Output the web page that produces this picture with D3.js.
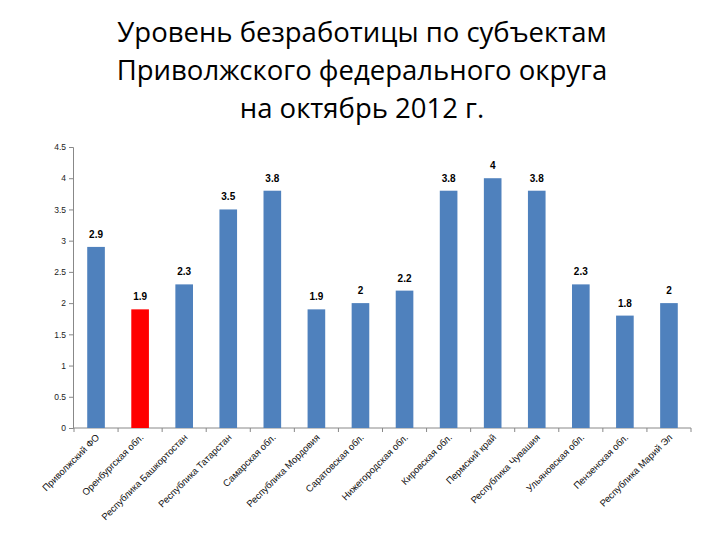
<!DOCTYPE html>
<html><head><meta charset="utf-8">
<script src="https://cdn.jsdelivr.net/npm/d3@7"></script>
<style>body{margin:0;background:#fff}</style>
</head><body>
<svg id="c" width="720" height="540"></svg>
<script>
const titleLines = ["Уровень безработицы по субъектам", "Приволжского федерального округа", "на октябрь 2012 г."];
const categories = ["Приволжский ФО", "Оренбургская обл.", "Республика Башкортостан", "Республика Татарстан", "Самарская обл.", "Республика Мордовия", "Саратовская обл.", "Нижегородская обл.", "Кировская обл.", "Пермский край", "Республика Чувашия", "Ульяновская обл.", "Пензенская обл.", "Республика Марий Эл"];
const values = [2.9, 1.9, 2.3, 3.5, 3.8, 1.9, 2, 2.2, 3.8, 4, 3.8, 2.3, 1.8, 2];
const highlighted = ["Оренбургская обл."];
const yTicks = [0, 0.5, 1, 1.5, 2, 2.5, 3, 3.5, 4, 4.5];

const svg = d3.select("#c");
const x = d3.scaleBand().domain(categories).range([74, 691]).paddingInner(0.6).paddingOuter(0.3);
const y = d3.scaleLinear().domain([0, 4.5]).range([428, 147]);

svg.append("g").selectAll("text").data(titleLines).join("text")
  .attr("x", 362).attr("y", (d, i) => 42 + i * 38)
  .attr("text-anchor", "middle")
  .style("font-family", "'Open Sans', sans-serif").style("font-size", "27.5px").style("fill", "#000")
  .text(d => d);

const yAxis = svg.append("g").attr("transform", "translate(73,0)")
  .call(d3.axisLeft(y).tickValues(yTicks).tickSize(4).tickFormat(d3.format("")));
yAxis.select(".domain").attr("stroke", "#888");
yAxis.selectAll(".tick line").attr("stroke", "#888");
yAxis.selectAll("text").style("font-family", "'Liberation Sans', sans-serif").style("font-size", "8.5px").attr("fill", "#222");

// x axis baseline with ticks between categories
const xg = svg.append("g");
xg.append("line").attr("x1", 73).attr("x2", 691).attr("y1", y(0)).attr("y2", y(0)).attr("stroke", "#888");
const edges = d3.range(categories.length + 1).map(i => (x(categories[0]) + x.bandwidth() / 2 - x.step() / 2) + i * x.step());
xg.selectAll("line.t").data(edges).join("line").attr("class", "t")
  .attr("x1", d => d).attr("x2", d => d).attr("y1", y(0)).attr("y2", y(0) + 4).attr("stroke", "#888");

svg.append("g").selectAll("rect").data(values).join("rect")
  .attr("x", (d, i) => x(categories[i]))
  .attr("width", x.bandwidth())
  .attr("y", d => y(d))
  .attr("height", d => y(0) - y(d))
  .attr("fill", (d, i) => highlighted.includes(categories[i]) ? "#ff0000" : "#4f81bd");

svg.append("g").selectAll("text").data(values).join("text")
  .attr("x", (d, i) => x(categories[i]) + x.bandwidth() / 2)
  .attr("y", d => y(d) - 9)
  .attr("text-anchor", "middle")
  .style("font-family", "'Liberation Sans', sans-serif").style("font-size", "10px").style("font-weight", "bold").attr("fill", "#000")
  .text(d => d);

svg.append("g").selectAll("text").data(categories).join("text")
  .attr("transform", c => `translate(${x(c) + x.bandwidth() / 2 + 4},${y(0) + 10}) rotate(-45)`)
  .attr("text-anchor", "end")
  .style("font-family", "'Liberation Sans', sans-serif").style("font-size", "9.5px").attr("fill", "#111")
  .text(c => c);
</script>
</body></html>
